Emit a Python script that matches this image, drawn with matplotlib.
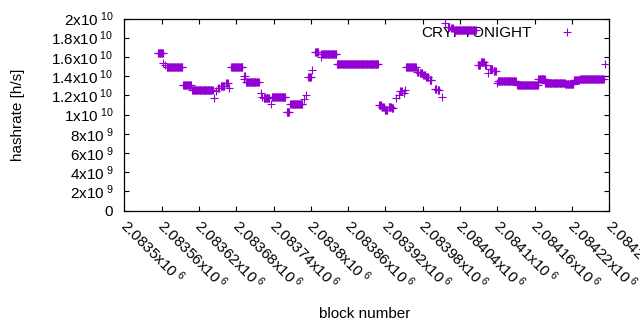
import numpy as np
import matplotlib
matplotlib.use('Agg')
import matplotlib.pyplot as plt
from matplotlib.ticker import FixedLocator, FixedFormatter

plt.rcParams['font.family'] = ['Liberation Sans', 'DejaVu Sans']
plt.rcParams['mathtext.fontset'] = 'custom'
plt.rcParams['mathtext.rm'] = 'Liberation Sans'
plt.rcParams['mathtext.it'] = 'Liberation Sans:italic'
plt.rcParams['mathtext.bf'] = 'Liberation Sans:bold'

series_name = 'CRYPTONIGHT'

# runs of consecutive blocks sharing (about) the same hashrate estimate
run_first = [2083554, 2083563, 2083565, 2083568, 2083595, 2083609, 2083644, 2083647,
             2083651, 2083655, 2083664, 2083668, 2083672, 2083692, 2083693, 2083696,
             2083720, 2083722, 2083724, 2083736, 2083737, 2083761, 2083767, 2083789,
             2083792, 2083796, 2083802, 2083807, 2083816, 2083817, 2083842, 2083910,
             2083914, 2083919, 2083925, 2083930, 2083937, 2083941, 2083944, 2083950,
             2083952, 2083953, 2083971, 2083975, 2083981, 2083986, 2083991, 2084000,
             2084004, 2084011, 2084016, 2084021, 2084026, 2084030, 2084069, 2084074,
             2084080, 2084085, 2084088, 2084094, 2084099, 2084101, 2084132, 2084166,
             2084177, 2084209, 2084223, 2084233, 2084273]
run_last = [2083562, 2083563, 2083565, 2083593, 2083607, 2083642, 2083644, 2083647,
            2083652, 2083661, 2083666, 2083668, 2083690, 2083692, 2083694, 2083716,
            2083720, 2083722, 2083733, 2083736, 2083759, 2083765, 2083786, 2083789,
            2083792, 2083800, 2083802, 2083812, 2083816, 2083841, 2083908, 2083913,
            2083917, 2083923, 2083929, 2083932, 2083937, 2083941, 2083946, 2083950,
            2083952, 2083969, 2083973, 2083979, 2083984, 2083989, 2083994, 2084002,
            2084006, 2084011, 2084016, 2084023, 2084028, 2084065, 2084072, 2084078,
            2084082, 2084085, 2084092, 2084097, 2084099, 2084130, 2084165, 2084176,
            2084208, 2084222, 2084232, 2084271, 2084273]
run_hashrate_e9 = [16.4, 15.4, 15.15, 14.9, 13.1, 12.6, 11.7, 12.5,
                   12.8, 13.0, 13.25, 12.8, 14.9, 13.7, 14.0, 13.4,
                   12.2, 11.85, 11.7, 11.05, 11.8, 10.3, 11.05, 11.6,
                   12.0, 13.9, 14.6, 16.5, 16.0, 16.3, 15.3, 10.95,
                   10.8, 10.45, 10.8, 10.7, 11.7, 12.0, 12.4, 12.2,
                   12.55, 14.95, 14.45, 14.3, 14.1, 13.9, 13.6, 12.7,
                   12.55, 11.8, 19.5, 19.15, 19.0, 18.85, 15.2, 15.5,
                   15.15, 14.35, 14.7, 14.5, 13.3, 13.5, 13.05, 13.65,
                   13.3, 13.15, 13.55, 13.7, 15.3]

x_ticks = [2083500, 2083560, 2083620, 2083680, 2083740, 2083800, 2083860,
           2083920, 2083980, 2084040, 2084100, 2084160, 2084220, 2084280]
x_tick_mantissa = ['2.0835', '2.08356', '2.08362', '2.08368', '2.08374', '2.0838',
                   '2.08386', '2.08392', '2.08398', '2.08404', '2.0841', '2.08416',
                   '2.08422', '2.08428']
x_tick_exp = '6'
y_ticks = [0, 2e9, 4e9, 6e9, 8e9, 1e10, 1.2e10, 1.4e10, 1.6e10, 1.8e10, 2e10]
y_tick_mantissa = ['0', '2', '4', '6', '8', '1', '1.2', '1.4', '1.6', '1.8', '2']
y_tick_exp = ['', '9', '9', '9', '9', '10', '10', '10', '10', '10', '10']

blocks = np.concatenate([np.arange(a, b + 1) for a, b in zip(run_first, run_last)])
hashrate = np.concatenate([np.full(b - a + 1, v * 1e9)
                           for a, b, v in zip(run_first, run_last, run_hashrate_e9)])


def sci(mant, exp):
    if exp == '':
        return mant
    return mant + 'x10$^{\\mathregular{\\ ' + exp + '}}$'


fig = plt.figure(figsize=(6.4, 3.3), dpi=100)
ax = fig.add_axes([124.3 / 640, 1 - 210.5 / 330, (609.3 - 124.3) / 640, (210.5 - 18.5) / 330])

color = '#9400D3'
ax.plot(blocks, hashrate, linestyle='none', marker='+', markersize=5.2,
        markeredgewidth=0.8, color=color, label=series_name, zorder=3)

ax.set_xlim(x_ticks[0], x_ticks[-1])
ax.set_ylim(y_ticks[0], y_ticks[-1])

fs = 11
ax.xaxis.set_major_locator(FixedLocator(x_ticks))
ax.xaxis.set_major_formatter(FixedFormatter([sci(m, x_tick_exp) for m in x_tick_mantissa]))
ax.yaxis.set_major_locator(FixedLocator(y_ticks))
ax.yaxis.set_major_formatter(FixedFormatter(
    [sci(m, e) for m, e in zip(y_tick_mantissa, y_tick_exp)]))

ax.tick_params(axis='both', which='major', direction='in', length=3.6, width=0.8,
               top=True, right=True, labelsize=fs, colors='black')
ax.tick_params(axis='y', pad=8)
ax.tick_params(axis='x', pad=7.5)
for lab in ax.get_xticklabels():
    lab.set_rotation(-45)
    lab.set_ha('left')
    lab.set_va('center_baseline')
    lab.set_rotation_mode('anchor')

for sp in ax.spines.values():
    sp.set_linewidth(0.9)
    sp.set_color('black')

ax.set_xlabel('block number', fontsize=fs)
ax.xaxis.set_label_coords(0.495, -0.505)
ax.set_ylabel('hashrate [h/s]', fontsize=fs)
ax.yaxis.set_label_coords(-0.205, 0.5)

leg = ax.legend(loc='upper right', bbox_to_anchor=(0.9635, 0.985), frameon=False,
                markerfirst=False, fontsize=fs, handlelength=2.6, handletextpad=1.05,
                borderaxespad=0.0, borderpad=0.3, markerscale=1.0)
leg.set_zorder(1)

fig.savefig('out.png', dpi=100)
